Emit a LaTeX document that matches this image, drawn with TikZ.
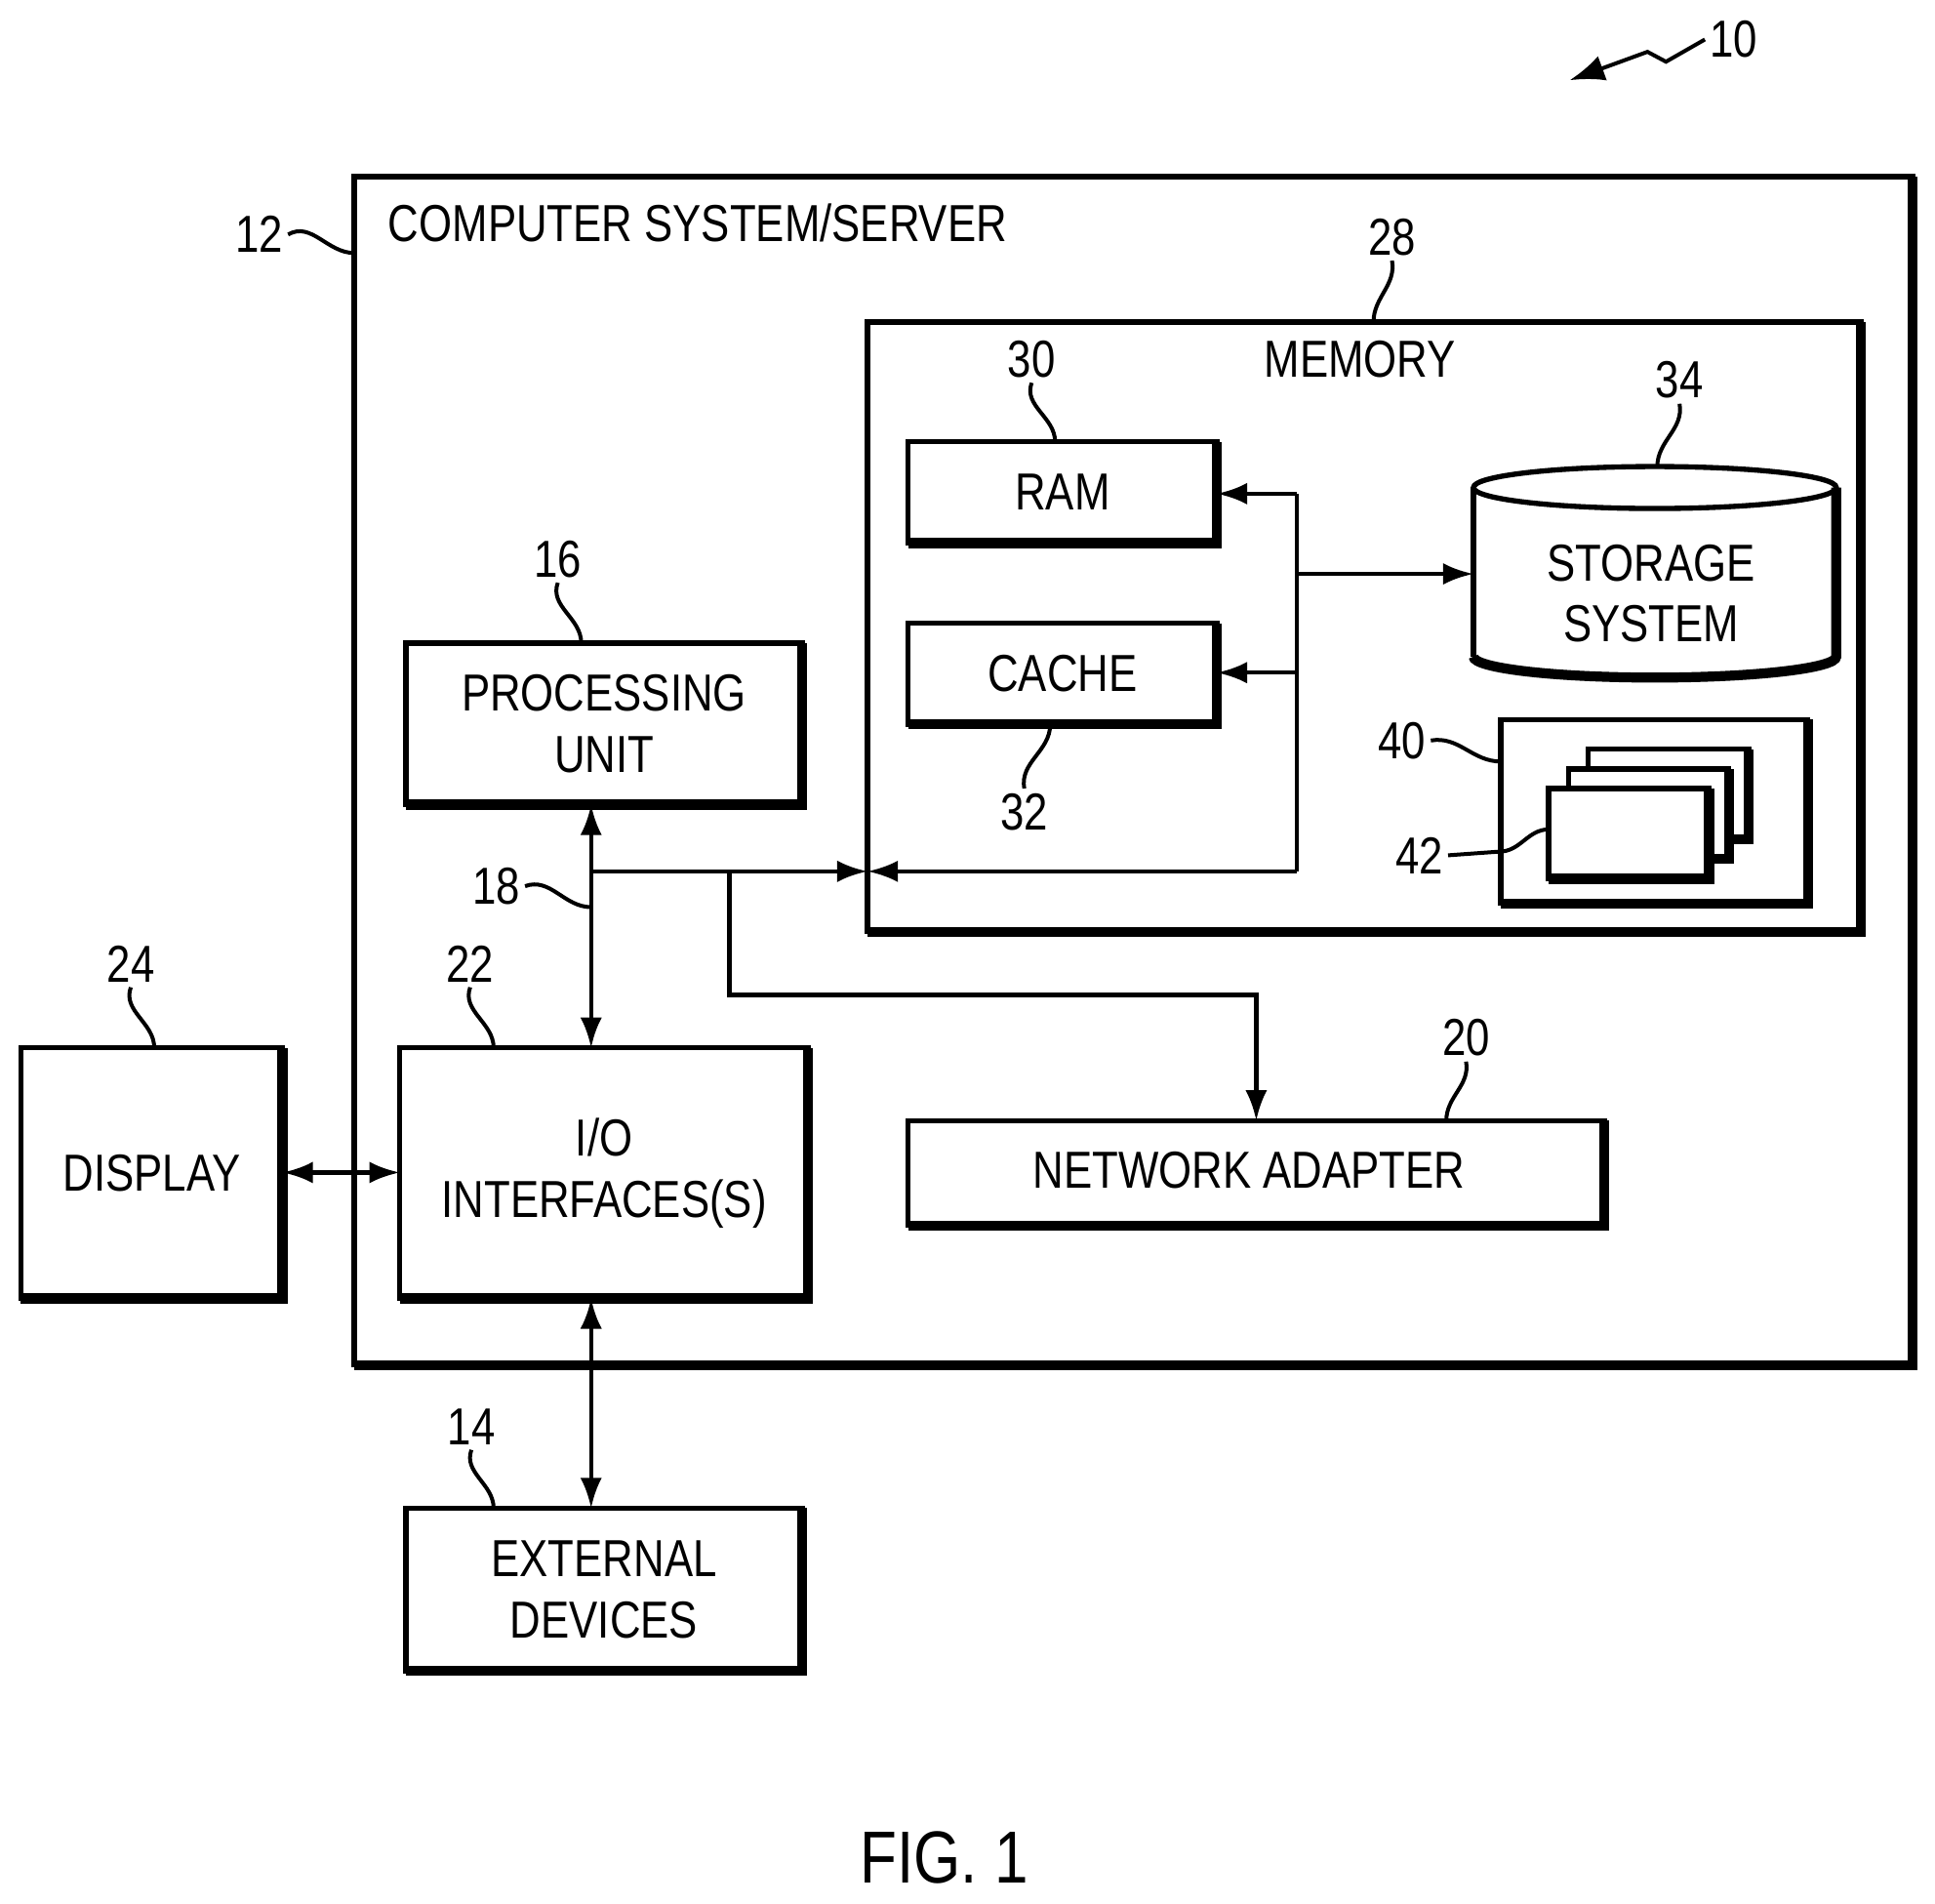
\documentclass[tikz,border=0pt]{standalone}
\usepackage{fontspec}
\setmainfont{Liberation Sans}[FakeStretch=0.82]
\usetikzlibrary{arrows.meta,calc}

\tikzset{
  box/.style={draw,line width=1.2pt,inner sep=0pt},
  lbl/.style={font=\fontsize{12}{14}\selectfont,inner sep=1pt},
  txt/.style={font=\fontsize{12}{14}\selectfont,align=center,inner sep=0pt},
  lead/.style={line width=0.9pt},
  conn/.style={line width=1pt,-{Latex[length=7pt,width=5pt]}},
  bidir/.style={line width=1pt,{Latex[length=7pt,width=5pt]}-{Latex[length=7pt,width=5pt]}}
}
% box with heavy right and bottom edge
\newcommand{\shadebox}[3]{%
  \draw[box] #1 rectangle #2;
  \coordinate (#3 nw) at #1; \coordinate (#3 se) at #2;
  \draw[line width=2.3pt] (#3 se -| #3 nw) -- (#3 se) -- (#3 se |- #3 nw);
}

\begin{document}
\begin{tikzpicture}[x=0.01cm,y=-0.01cm]
\useasboundingbox (0,0) rectangle (1568,1542);

% boxes
\shadebox{(287,143)}{(1550,1106)}{server}
\shadebox{(703,261)}{(1508,755)}{mem}
\shadebox{(736,358)}{(986,440)}{ram}
\shadebox{(736,505)}{(986,587)}{cache}
\shadebox{(1216,583)}{(1465,732)}{prog}
\shadebox{(329,521)}{(650,652)}{pu}
\shadebox{(324,849)}{(655,1052)}{io}
\shadebox{(17,849)}{(229,1052)}{disp}
\shadebox{(736,908)}{(1300,993)}{net}
\shadebox{(329,1222)}{(650,1354)}{ext}

% program modules
\foreach \d in {32,16,0}{
  \draw[box,fill=white] (1255+\d,639-\d) rectangle (1385+\d,712-\d);
  \draw[line width=2.3pt] (1255+\d,712-\d) -- (1385+\d,712-\d) -- (1385+\d,639-\d);
}

% storage cylinder
\draw[box] (1341,395) ellipse [x radius=147,y radius=17];
\draw[box] (1194,395) -- (1194,532);
\draw[line width=2.3pt] (1488,395) -- (1488,532) arc[start angle=0,end angle=180,x radius=147,y radius=17];
\node[txt] (store) at (1338,481) {STORAGE\\SYSTEM};
\coordinate (store w) at (1194,465);

% texts
\node[txt,anchor=west] (srv) at (314,181) {COMPUTER SYSTEM/SERVER};
\node[txt] (memt) at (1102,291) {MEMORY};
\node[txt] (ramt) at ($(ram nw)!0.5!(ram se)$) {RAM};
\node[txt] (cachet) at ($(cache nw)!0.5!(cache se)$) {CACHE};
\node[txt] (put) at ($(pu nw)!0.5!(pu se)$) {PROCESSING\\UNIT};
\node[txt] (iot) at ($(io nw)!0.5!(io se)$) {I/O\\INTERFACES(S)};
\node[txt] (dispt) at ($(disp nw)!0.5!(disp se)$) {DISPLAY};
\node[txt] (nett) at (1012,948) {NETWORK ADAPTER};
\node[txt] (extt) at ($(ext nw)!0.5!(ext se)$) {EXTERNAL\\DEVICES};
\node[font=\fontsize{17}{20}\selectfont] (fig) at (765,1505) {FIG. 1};

% bus
\coordinate (bus) at (479,706);
\coordinate (memin) at (703,706);
\coordinate (memr) at (1051,706);
\coordinate (tap) at (591,706);
\draw[bidir] (479,652) -- (479,849);
\draw[line width=1pt] (bus) -- (tap);
\draw[conn] (tap) -- (memin);
\draw[conn] (memr) -- (memin);
\draw[line width=1pt] (memr) -- (1051,400);
\draw[conn] (1051,400) -- (986,400);
\draw[conn] (1051,545) -- (986,545);
\draw[conn] (1051,465) -- (store w);
\draw[conn] (tap) -- (591,806) -| (1018,908);
\draw[bidir] (229,950) -- (324,950);
\draw[bidir] (479,1052) -- (479,1222);

% reference numerals
\node[lbl] (n10) at (1405,32) {10};
\draw[lead,-{Latex[length=8pt,width=6pt]}] (n10.west) -- (1350,50) -- (1335,42) -- (1272,65);
\node[lbl] (n12) at (210,190) {12};
\draw[lead] (n12.east) to[out=30,in=180] (287,205);
\node[lbl] (n28) at (1128,192) {28};
\draw[lead] (n28.south) to[out=-80,in=90] (1113,261);
\node[lbl] (n30) at (836,291) {30};
\draw[lead] (n30.south) to[out=-110,in=90] (855,358);
\node[lbl] (n34) at (1361,308) {34};
\draw[lead] (n34.south) to[out=-80,in=90] (1343,378);
\node[lbl] (n16) at (452,453) {16};
\draw[lead] (n16.south) to[out=-110,in=90] (471,521);
\node[lbl] (n32) at (830,658) {32};
\draw[lead] (n32.north) to[out=100,in=-90] (851,587);
\node[lbl] (n40) at (1136,600) {40};
\draw[lead] (n40.east) to[out=10,in=180] (1216,617);
\node[lbl] (n42) at (1150,693) {42};
\draw[lead] (n42.east) -- (1215,690) to[out=0,in=180] (1255,672);
\node[lbl] (n18) at (402,718) {18};
\draw[lead] (n18.east) to[out=20,in=180] (479,735);
\node[lbl] (n22) at (381,781) {22};
\draw[lead] (n22.south) to[out=-110,in=90] (400,849);
\node[lbl] (n24) at (106,781) {24};
\draw[lead] (n24.south) to[out=-110,in=90] (125,849);
\node[lbl] (n20) at (1188,841) {20};
\draw[lead] (n20.south) to[out=-80,in=90] (1172,908);
\node[lbl] (n14) at (382,1156) {14};
\draw[lead] (n14.south) to[out=-110,in=90] (400,1222);
\end{tikzpicture}
\end{document}
